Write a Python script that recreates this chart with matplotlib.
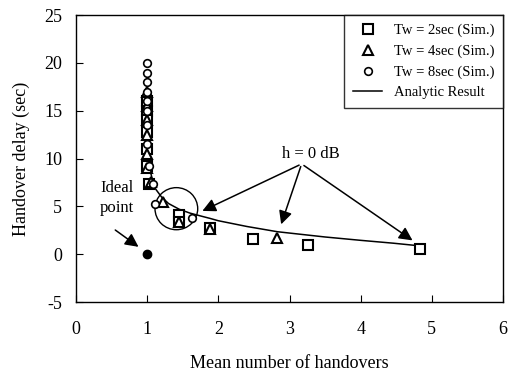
import matplotlib
matplotlib.use("Agg")
import matplotlib.pyplot as plt
from matplotlib.patches import Ellipse

plt.rcParams['font.family'] = ['Liberation Serif', 'DejaVu Serif']
plt.rcParams['axes.unicode_minus'] = False

# Simulation results
tw2_x = [1.0, 1.0, 1.0, 1.0, 1.0, 1.0, 1.03, 1.45, 1.45, 1.88, 2.48, 3.26, 4.83]
tw2_y = [16.0, 15.0, 14.0, 12.8, 11.0, 9.2, 7.3, 4.1, 3.4, 2.7, 1.55, 0.95, 0.55]
tw4_x = [1.0, 1.0, 1.0, 1.0, 1.0, 1.0, 1.05, 1.22, 1.45, 1.88, 2.83]
tw4_y = [17.0, 15.5, 14.0, 12.5, 10.5, 9.0, 7.5, 5.5, 3.4, 2.6, 1.7]
tw8_x = [1.0, 1.0, 1.0, 1.0, 1.0, 1.0, 1.0, 1.0, 1.02, 1.08, 1.11, 1.63]
tw8_y = [20.0, 19.0, 18.0, 17.0, 16.0, 15.0, 13.5, 11.5, 9.2, 7.3, 5.3, 3.8]

# Analytic result
ana_x = [0.995, 1.0, 1.02, 1.05, 1.1, 1.2, 1.3, 1.45, 1.6, 1.75, 1.88, 2.0, 2.4, 2.83, 3.5, 4.0, 4.46, 4.86]
ana_y = [16.0, 13.0, 10.5, 8.5, 7.0, 6.0, 5.3, 4.7, 4.3, 4.0, 3.75, 3.5, 2.9, 2.35, 1.8, 1.45, 1.15, 0.85]

ideal_x = [1.0]
ideal_y = [0.0]

x_ticks = [0, 1, 2, 3, 4, 5, 6]
y_ticks = [-5, 0, 5, 10, 15, 20, 25]

fig = plt.figure(figsize=(5.17, 3.78), dpi=100)
ax = fig.add_axes([0.147, 0.201, 0.826, 0.759])

ax.plot(ana_x, ana_y, color='black', lw=1.1, label='Analytic Result', zorder=2)
ax.plot(tw2_x, tw2_y, linestyle='none', marker='s', ms=6.5, mfc='white', mec='black', mew=1.5,
        label='Tw = 2sec (Sim.)', zorder=3)
ax.plot(tw4_x, tw4_y, linestyle='none', marker='^', ms=6.5, mfc='white', mec='black', mew=1.5,
        label='Tw = 4sec (Sim.)', zorder=4)
ax.plot(tw8_x, tw8_y, linestyle='none', marker='o', ms=5.5, mfc='white', mec='black', mew=1.2,
        label='Tw = 8sec (Sim.)', zorder=5)
ax.plot(ideal_x, ideal_y, linestyle='none', marker='o', ms=6, color='black', zorder=5)

ax.add_patch(Ellipse((1.41, 4.76), 0.6, 4.4, fill=False, ec='black', lw=1.0))

ax.text(3.3, 10.5, 'h = 0 dB', ha='center', va='center', fontsize=12)
for tx, ty in [(1.74, 4.4), (2.87, 2.85), (4.76, 1.28)]:
    ax.annotate('', xy=(tx, ty), xytext=(3.17, 9.44),
                arrowprops=dict(arrowstyle='-|>', color='black', lw=1.1, mutation_scale=20))

ax.text(0.58, 6.9, 'Ideal', ha='center', va='center', fontsize=12)
ax.text(0.58, 4.8, 'point', ha='center', va='center', fontsize=12)
ax.annotate('', xy=(0.91, 0.6), xytext=(0.52, 2.7),
            arrowprops=dict(arrowstyle='-|>', color='black', lw=1.1, mutation_scale=20))

ax.set_xlim(0, 6)
ax.set_ylim(-5, 25)
ax.set_xticks(x_ticks)
ax.set_yticks(y_ticks)
ax.tick_params(direction='in', length=5, labelsize=13, pad=10)
ax.tick_params(axis='x', pad=14)
for s in ax.spines.values():
    s.set_linewidth(1.0)

ax.set_xlabel('Mean number of handovers', fontsize=13, labelpad=12)
ax.set_ylabel('Handover delay (sec)', fontsize=13, labelpad=10)

handles, labels = ax.get_legend_handles_labels()
order = [1, 2, 3, 0]
leg = ax.legend([handles[i] for i in order], [labels[i] for i in order],
                loc='upper right', fontsize=10.5, frameon=True, fancybox=False,
                edgecolor='black', borderaxespad=0.0, handlelength=2.0,
                labelspacing=0.5, borderpad=0.6)
leg.get_frame().set_linewidth(1.0)

fig.savefig('out.png', dpi=100)
